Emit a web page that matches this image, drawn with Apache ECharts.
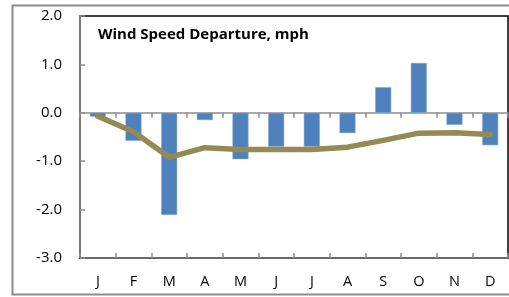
<!DOCTYPE html>
<html>
<head>
<meta charset="utf-8">
<script src="https://cdn.jsdelivr.net/npm/echarts@6/dist/echarts.min.js"></script>
<style>
  html, body { margin: 0; padding: 0; background: #fff; }
</style>
</head>
<body>
<div id="main" style="width: 509px;height:297px;"></div>
<script type="text/javascript">
    // data
    var months = ['J', 'F', 'M', 'A', 'M', 'J', 'J', 'A', 'S', 'O', 'N', 'D'];
    var departure = [-0.08, -0.58, -2.11, -0.15, -0.96, -0.70, -0.70, -0.42, 0.53, 1.03, -0.25, -0.67];
    var trend = [-0.07, -0.39, -0.92, -0.72, -0.76, -0.76, -0.76, -0.71, -0.57, -0.42, -0.41, -0.45];

    var font = 'Open Sans';
    var myChart = echarts.init(document.getElementById('main'));

    var option = {
        animation: false,
        title: {
            text: 'Wind Speed Departure, mph',
            left: 93,
            top: 22,
            textStyle: { fontFamily: font, fontSize: 15, fontWeight: 'bold', color: '#000' }
        },
        graphic: [{
            type: 'rect',
            shape: { x: 12.5, y: 5.5, width: 520, height: 289 },
            style: { fill: null, stroke: '#8c8c8c', lineWidth: 2 },
            z: -1
        }],
        grid: {
            left: 80, right: 1, top: 16, bottom: 39,
            show: true, borderColor: '#000', borderWidth: 1.5
        },
        xAxis: [{
            type: 'category',
            data: months,
            axisLine: { onZero: false, lineStyle: { color: '#000', width: 2 } },
            axisTick: { show: false },
            axisLabel: { margin: 16, fontFamily: font, fontSize: 14.5, color: '#000' }
        }, {
            type: 'category',
            data: months,
            position: 'bottom',
            axisLine: { onZero: true, lineStyle: { color: '#8c8c8c', width: 1.5 } },
            axisTick: { show: true, length: 5, lineStyle: { color: '#8c8c8c', width: 1.5 } },
            axisLabel: { show: false }
        }, {
            type: 'category',
            data: months,
            position: 'bottom',
            axisLine: { onZero: true, lineStyle: { color: '#8c8c8c', width: 1.5 } },
            axisTick: { show: true, inside: true, length: 5, lineStyle: { color: '#8c8c8c', width: 1.5 } },
            axisLabel: { show: false }
        }],
        yAxis: {
            type: 'value',
            min: -3, max: 2, interval: 1,
            axisLine: { show: true, lineStyle: { color: '#8c8c8c', width: 1.5 } },
            axisTick: { show: true, inside: true, length: 5, lineStyle: { color: '#8c8c8c', width: 1.5 } },
            splitLine: { show: false },
            axisLabel: {
                margin: 18, fontFamily: font, fontSize: 15, color: '#000',
                formatter: function (v) { return v.toFixed(1); }
            }
        },
        series: [{
            name: 'Departure',
            type: 'bar',
            data: departure,
            barWidth: '45%',
            itemStyle: { color: '#4F81BD', borderColor: '#8fb0d8', borderWidth: 0.5 }
        }, {
            name: 'Trend',
            type: 'line',
            data: trend,
            symbol: 'none',
            lineStyle: { color: '#948A54', width: 5.5, cap: 'round', join: 'round' },
            z: 3
        }]
    };
    myChart.setOption(option);
</script>
</body>
</html>
